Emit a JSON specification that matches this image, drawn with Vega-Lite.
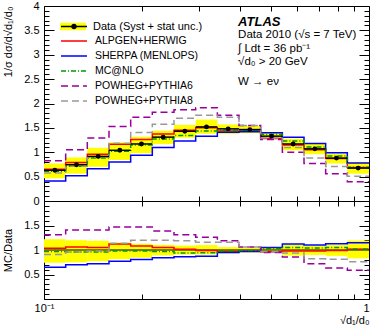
{
  "$schema": "https://vega.github.io/schema/vega-lite/v6.json",
  "padding": {"left": 2, "top": -1, "right": 1, "bottom": 0},
  "spacing": 0,
  "bounds": "flush",
  "config": {
    "font": "Liberation Sans",
    "view": {"stroke": "black", "strokeWidth": 1},
    "axis": {"domain": false, "grid": false, "tickColor": "black", "tickWidth": 1, "labelColor": "black", "titleColor": "black", "labelFont": "Liberation Sans", "titleFont": "Liberation Sans", "titleFontWeight": "normal", "labelFontSize": 11, "titleFontSize": 11}
  },
  "datasets": {
    "bins": [
      {"lo": 0.1, "hi": 0.1166, "c": 0.108, "d": 0.63, "dlo": 0.466, "dhi": 0.77, "rlo": 0.74, "rhi": 1.22},
      {"lo": 0.1166, "hi": 0.1359, "c": 0.1259, "d": 0.745, "dlo": 0.56, "dhi": 0.894, "rlo": 0.75, "rhi": 1.2},
      {"lo": 0.1359, "hi": 0.1585, "c": 0.1468, "d": 0.915, "dlo": 0.705, "dhi": 1.09, "rlo": 0.77, "rhi": 1.19},
      {"lo": 0.1585, "hi": 0.1848, "c": 0.1711, "d": 1.04, "dlo": 0.84, "dhi": 1.2, "rlo": 0.81, "rhi": 1.15},
      {"lo": 0.1848, "hi": 0.2154, "c": 0.1995, "d": 1.17, "dlo": 0.98, "dhi": 1.32, "rlo": 0.84, "rhi": 1.13},
      {"lo": 0.2154, "hi": 0.2512, "c": 0.2326, "d": 1.31, "dlo": 1.17, "dhi": 1.44, "rlo": 0.89, "rhi": 1.1},
      {"lo": 0.2512, "hi": 0.2929, "c": 0.2712, "d": 1.43, "dlo": 1.3, "dhi": 1.56, "rlo": 0.91, "rhi": 1.09},
      {"lo": 0.2929, "hi": 0.3415, "c": 0.3162, "d": 1.52, "dlo": 1.38, "dhi": 1.67, "rlo": 0.91, "rhi": 1.1},
      {"lo": 0.3415, "hi": 0.3981, "c": 0.3687, "d": 1.48, "dlo": 1.37, "dhi": 1.57, "rlo": 0.925, "rhi": 1.06},
      {"lo": 0.3981, "hi": 0.4642, "c": 0.4299, "d": 1.465, "dlo": 1.39, "dhi": 1.54, "rlo": 0.95, "rhi": 1.05},
      {"lo": 0.4642, "hi": 0.5412, "c": 0.5012, "d": 1.33, "dlo": 1.28, "dhi": 1.4, "rlo": 0.96, "rhi": 1.05},
      {"lo": 0.5412, "hi": 0.631, "c": 0.5843, "d": 1.17, "dlo": 1.04, "dhi": 1.27, "rlo": 0.89, "rhi": 1.1},
      {"lo": 0.631, "hi": 0.7356, "c": 0.6813, "d": 1.07, "dlo": 0.96, "dhi": 1.17, "rlo": 0.9, "rhi": 1.09},
      {"lo": 0.7356, "hi": 0.8577, "c": 0.7943, "d": 0.88, "dlo": 0.77, "dhi": 0.97, "rlo": 0.88, "rhi": 1.1},
      {"lo": 0.8577, "hi": 1.0, "c": 0.9261, "d": 0.675, "dlo": 0.56, "dhi": 0.8, "rlo": 0.83, "rhi": 1.19}
    ],
    "lines": [
      {"g": "Alpgen+Herwig", "x": 0.1, "t": 0.652, "r": 1.035},
      {"g": "Alpgen+Herwig", "x": 0.1166, "t": 0.79, "r": 1.06},
      {"g": "Alpgen+Herwig", "x": 0.1359, "t": 0.96, "r": 1.05},
      {"g": "Alpgen+Herwig", "x": 0.1585, "t": 1.165, "r": 1.12},
      {"g": "Alpgen+Herwig", "x": 0.1848, "t": 1.264, "r": 1.08},
      {"g": "Alpgen+Herwig", "x": 0.2154, "t": 1.376, "r": 1.05},
      {"g": "Alpgen+Herwig", "x": 0.2512, "t": 1.451, "r": 1.015},
      {"g": "Alpgen+Herwig", "x": 0.2929, "t": 1.505, "r": 0.99},
      {"g": "Alpgen+Herwig", "x": 0.3415, "t": 1.436, "r": 0.97},
      {"g": "Alpgen+Herwig", "x": 0.3981, "t": 1.436, "r": 0.98},
      {"g": "Alpgen+Herwig", "x": 0.4642, "t": 1.283, "r": 0.965},
      {"g": "Alpgen+Herwig", "x": 0.5412, "t": 1.147, "r": 0.98},
      {"g": "Alpgen+Herwig", "x": 0.631, "t": 1.049, "r": 0.98},
      {"g": "Alpgen+Herwig", "x": 0.7356, "t": 0.871, "r": 0.99},
      {"g": "Alpgen+Herwig", "x": 0.8577, "t": 0.685, "r": 1.015},
      {"g": "Alpgen+Herwig", "x": 1.0, "t": 0.685, "r": 1.015},
      {"g": "Sherpa (Menlops)", "x": 0.1, "t": 0.41, "r": 0.65},
      {"g": "Sherpa (Menlops)", "x": 0.1166, "t": 0.52, "r": 0.7},
      {"g": "Sherpa (Menlops)", "x": 0.1359, "t": 0.66, "r": 0.72},
      {"g": "Sherpa (Menlops)", "x": 0.1585, "t": 0.8, "r": 0.77},
      {"g": "Sherpa (Menlops)", "x": 0.1848, "t": 0.94, "r": 0.805},
      {"g": "Sherpa (Menlops)", "x": 0.2154, "t": 1.1, "r": 0.84},
      {"g": "Sherpa (Menlops)", "x": 0.2512, "t": 1.23, "r": 0.86},
      {"g": "Sherpa (Menlops)", "x": 0.2929, "t": 1.33, "r": 0.875},
      {"g": "Sherpa (Menlops)", "x": 0.3415, "t": 1.41, "r": 0.95},
      {"g": "Sherpa (Menlops)", "x": 0.3981, "t": 1.42, "r": 0.97},
      {"g": "Sherpa (Menlops)", "x": 0.4642, "t": 1.4, "r": 1.05},
      {"g": "Sherpa (Menlops)", "x": 0.5412, "t": 1.31, "r": 1.12},
      {"g": "Sherpa (Menlops)", "x": 0.631, "t": 1.18, "r": 1.1},
      {"g": "Sherpa (Menlops)", "x": 0.7356, "t": 0.99, "r": 1.13},
      {"g": "Sherpa (Menlops)", "x": 0.8577, "t": 0.78, "r": 1.15},
      {"g": "Sherpa (Menlops)", "x": 1.0, "t": 0.78, "r": 1.15},
      {"g": "Mc@Nlo", "x": 0.1, "t": 0.61, "r": 0.97},
      {"g": "Mc@Nlo", "x": 0.1166, "t": 0.715, "r": 0.96},
      {"g": "Mc@Nlo", "x": 0.1359, "t": 0.88, "r": 0.96},
      {"g": "Mc@Nlo", "x": 0.1585, "t": 1.02, "r": 0.98},
      {"g": "Mc@Nlo", "x": 0.1848, "t": 1.147, "r": 0.98},
      {"g": "Mc@Nlo", "x": 0.2154, "t": 1.27, "r": 0.97},
      {"g": "Mc@Nlo", "x": 0.2512, "t": 1.344, "r": 0.94},
      {"g": "Mc@Nlo", "x": 0.2929, "t": 1.436, "r": 0.945},
      {"g": "Mc@Nlo", "x": 0.3415, "t": 1.45, "r": 0.98},
      {"g": "Mc@Nlo", "x": 0.3981, "t": 1.45, "r": 0.99},
      {"g": "Mc@Nlo", "x": 0.4642, "t": 1.37, "r": 1.03},
      {"g": "Mc@Nlo", "x": 0.5412, "t": 1.23, "r": 1.05},
      {"g": "Mc@Nlo", "x": 0.631, "t": 1.11, "r": 1.04},
      {"g": "Mc@Nlo", "x": 0.7356, "t": 0.924, "r": 1.05},
      {"g": "Mc@Nlo", "x": 0.8577, "t": 0.69, "r": 1.02},
      {"g": "Mc@Nlo", "x": 1.0, "t": 0.69, "r": 1.02},
      {"g": "Powheg+Pythia6", "x": 0.1, "t": 0.825, "r": 1.31},
      {"g": "Powheg+Pythia6", "x": 0.1166, "t": 1.05, "r": 1.41},
      {"g": "Powheg+Pythia6", "x": 0.1359, "t": 1.29, "r": 1.41},
      {"g": "Powheg+Pythia6", "x": 0.1585, "t": 1.53, "r": 1.47},
      {"g": "Powheg+Pythia6", "x": 0.1848, "t": 1.72, "r": 1.47},
      {"g": "Powheg+Pythia6", "x": 0.2154, "t": 1.82, "r": 1.39},
      {"g": "Powheg+Pythia6", "x": 0.2512, "t": 1.87, "r": 1.31},
      {"g": "Powheg+Pythia6", "x": 0.2929, "t": 1.915, "r": 1.26},
      {"g": "Powheg+Pythia6", "x": 0.3415, "t": 1.76, "r": 1.19},
      {"g": "Powheg+Pythia6", "x": 0.3981, "t": 1.55, "r": 1.06},
      {"g": "Powheg+Pythia6", "x": 0.4642, "t": 1.26, "r": 0.95},
      {"g": "Powheg+Pythia6", "x": 0.5412, "t": 1.0, "r": 0.855},
      {"g": "Powheg+Pythia6", "x": 0.631, "t": 0.77, "r": 0.72},
      {"g": "Powheg+Pythia6", "x": 0.7356, "t": 0.56, "r": 0.635},
      {"g": "Powheg+Pythia6", "x": 0.8577, "t": 0.395, "r": 0.585},
      {"g": "Powheg+Pythia6", "x": 1.0, "t": 0.395, "r": 0.585},
      {"g": "Powheg+Pythia8", "x": 0.1, "t": 0.573, "r": 0.91},
      {"g": "Powheg+Pythia8", "x": 0.1166, "t": 0.715, "r": 0.96},
      {"g": "Powheg+Pythia8", "x": 0.1359, "t": 0.897, "r": 0.98},
      {"g": "Powheg+Pythia8", "x": 0.1585, "t": 1.186, "r": 1.14},
      {"g": "Powheg+Pythia8", "x": 0.1848, "t": 1.404, "r": 1.2},
      {"g": "Powheg+Pythia8", "x": 0.2154, "t": 1.572, "r": 1.2},
      {"g": "Powheg+Pythia8", "x": 0.2512, "t": 1.7, "r": 1.19},
      {"g": "Powheg+Pythia8", "x": 0.2929, "t": 1.76, "r": 1.16},
      {"g": "Powheg+Pythia8", "x": 0.3415, "t": 1.72, "r": 1.16},
      {"g": "Powheg+Pythia8", "x": 0.3981, "t": 1.55, "r": 1.06},
      {"g": "Powheg+Pythia8", "x": 0.4642, "t": 1.29, "r": 0.97},
      {"g": "Powheg+Pythia8", "x": 0.5412, "t": 1.1, "r": 0.94},
      {"g": "Powheg+Pythia8", "x": 0.631, "t": 0.88, "r": 0.82},
      {"g": "Powheg+Pythia8", "x": 0.7356, "t": 0.71, "r": 0.81},
      {"g": "Powheg+Pythia8", "x": 0.8577, "t": 0.51, "r": 0.76},
      {"g": "Powheg+Pythia8", "x": 1.0, "t": 0.51, "r": 0.76}
    ]
  },
  "vconcat": [
    {
      "width": 325,
      "height": 195,
      "resolve": {"axis": {"x": "independent", "y": "independent"}},
      "layer": [
        {
          "data": {"name": "bins"},
          "mark": {"type": "rect"},
          "encoding": {
            "x": {"field": "lo", "type": "quantitative", "scale": {"type": "log", "domain": [0.1, 1], "nice": false},
                  "axis": {"orient": "bottom", "values": [0.2, 0.3, 0.4, 0.5, 0.6, 0.7, 0.8, 0.9], "tickSize": -5, "labels": false, "title": null}},
            "x2": {"field": "hi"},
            "y": {"field": "dlo", "type": "quantitative", "scale": {"domain": [0, 4], "nice": false, "zero": false},
                  "axis": {"orient": "left", "values": [0, 0.5, 1, 1.5, 2, 2.5, 3, 3.5, 4], "format": "~g", "tickSize": -10, "labelPadding": 15, "title": "1/σ dσ/d√d₁/d₀", "titleAnchor": "end", "titlePadding": 10}},
            "y2": {"field": "dhi"},
            "fill": {"datum": "Data (Syst + stat unc.)", "scale": {"range": ["#ffff00"]},
                     "legend": {"orient": "none", "legendX": 16, "legendY": 13.3, "title": null, "padding": 0, "symbolType": "M-1,-0.28H1V0.28H-1Z", "symbolSize": 676, "symbolStrokeWidth": 0, "labelFontSize": 11, "labelFont": "Liberation Sans", "labelColor": "black", "labelOffset": 7, "clipHeight": 14.4}}
          }
        },
        {
          "data": {"name": "lines"},
          "mark": {"type": "line", "interpolate": "step-after", "strokeWidth": 1.5},
          "encoding": {
            "x": {"field": "x", "type": "quantitative", "axis": {"orient": "top", "values": [0.2, 0.3, 0.4, 0.5, 0.6, 0.7, 0.8, 0.9], "tickSize": -5, "labels": false, "title": null}},
            "y": {"field": "t", "type": "quantitative", "axis": {"orient": "left", "values": [0.1,0.2,0.3,0.4,0.6,0.7,0.8,0.9,1.1,1.2,1.3,1.4,1.6,1.7,1.8,1.9,2.1,2.2,2.3,2.4,2.6,2.7,2.8,2.9,3.1,3.2,3.3,3.4,3.6,3.7,3.8,3.9], "tickSize": -5, "labels": false, "title": null}},
            "color": {"field": "g", "type": "nominal",
                      "scale": {"domain": ["Alpgen+Herwig", "Sherpa (Menlops)", "Mc@Nlo", "Powheg+Pythia6", "Powheg+Pythia8"], "range": ["#ff0000", "#0000ff", "#009900", "#990099", "#999999"]},
                      "legend": {"orient": "none", "legendX": 16, "legendY": 27.8, "title": null, "padding": 0, "symbolType": "stroke", "symbolSize": 676, "symbolStrokeWidth": 1.5, "labelFontSize": 10.5, "labelFont": "Liberation Sans", "labelColor": "black", "labelOffset": 7, "clipHeight": 14.4, "rowPadding": 0, "labelExpr": "upper(datum.label)"}},
            "strokeDash": {"field": "g", "type": "nominal",
                      "scale": {"domain": ["Alpgen+Herwig", "Sherpa (Menlops)", "Mc@Nlo", "Powheg+Pythia6", "Powheg+Pythia8"], "range": [[1, 0], [1, 0], [5, 2, 1, 2], [7, 4], [7, 4]]},
                      "legend": {"orient": "none", "legendX": 16, "legendY": 27.8, "title": null, "padding": 0, "symbolType": "stroke", "symbolSize": 676, "symbolStrokeWidth": 1.5, "labelFontSize": 10.5, "labelFont": "Liberation Sans", "labelColor": "black", "labelOffset": 7, "clipHeight": 14.4, "rowPadding": 0, "labelExpr": "upper(datum.label)"}}
          }
        },
        {
          "data": {"name": "bins"},
          "mark": {"type": "rule", "strokeWidth": 1.5},
          "encoding": {
            "x": {"field": "lo", "type": "quantitative", "axis": null},
            "x2": {"field": "hi"},
            "y": {"field": "d", "type": "quantitative", "axis": {"orient": "right", "values": [0, 0.5, 1, 1.5, 2, 2.5, 3, 3.5, 4], "tickSize": -10, "labels": false, "title": null}},
            "stroke": {"datum": "Data", "scale": {"range": ["black"]},
                       "legend": {"orient": "none", "legendX": 16, "legendY": 13.3, "title": null, "padding": 0, "symbolType": "M-1,0H1M0.16,0A0.16,0.16,0,1,1,-0.16,0A0.16,0.16,0,1,1,0.16,0Z", "symbolSize": 676, "symbolStrokeWidth": 1.5, "symbolStrokeColor": "black", "symbolFillColor": "black", "labelFontSize": 11, "labelColor": "black", "labelOffset": 7, "clipHeight": 14.4, "labelExpr": "''"}}
          }
        },
        {
          "data": {"name": "bins"},
          "mark": {"type": "point", "filled": true, "color": "black", "size": 24, "opacity": 1},
          "encoding": {
            "x": {"field": "c", "type": "quantitative", "axis": null},
            "y": {"field": "d", "type": "quantitative", "axis": {"orient": "right", "values": [0.1,0.2,0.3,0.4,0.6,0.7,0.8,0.9,1.1,1.2,1.3,1.4,1.6,1.7,1.8,1.9,2.1,2.2,2.3,2.4,2.6,2.7,2.8,2.9,3.1,3.2,3.3,3.4,3.6,3.7,3.8,3.9], "tickSize": -5, "labels": false, "title": null}}
          }
        },
        {
          "data": {"values": [{}]},
          "mark": {"type": "text", "text": "ATLAS", "align": "left", "baseline": "middle", "fontSize": 13, "fontWeight": "bold", "fontStyle": "italic", "font": "Liberation Sans", "color": "black"},
          "encoding": {"x": {"datum": 0.3955, "type": "quantitative", "axis": null}, "y": {"datum": 3.67, "type": "quantitative", "axis": null}}
        },
        {
          "data": {"values": [{}]},
          "mark": {"type": "text", "text": ["Data 2010 (√s = 7 TeV)", "∫ Ldt = 36 pb⁻¹", "√d₀ > 20 GeV"], "align": "left", "baseline": "middle", "fontSize": 11.5, "lineHeight": 13.5, "font": "Liberation Sans", "color": "black"},
          "encoding": {"x": {"datum": 0.3955, "type": "quantitative", "axis": null}, "y": {"datum": 3.4, "type": "quantitative", "axis": null}}
        },
        {
          "data": {"values": [{}]},
          "mark": {"type": "text", "text": "W → eν", "align": "left", "baseline": "middle", "fontSize": 11.5, "font": "Liberation Sans", "color": "black"},
          "encoding": {"x": {"datum": 0.3955, "type": "quantitative", "axis": null}, "y": {"datum": 2.44, "type": "quantitative", "axis": null}}
        }
      ]
    },
    {
      "width": 325,
      "height": 98,
      "resolve": {"axis": {"x": "independent", "y": "independent"}},
      "layer": [
        {
          "data": {"name": "bins"},
          "mark": {"type": "rect", "color": "#ffff00"},
          "encoding": {
            "x": {"field": "lo", "type": "quantitative", "scale": {"type": "log", "domain": [0.1, 1], "nice": false},
                  "axis": {"orient": "bottom", "values": [0.1, 0.2, 0.3, 0.4, 0.5, 0.6, 0.7, 0.8, 0.9, 1], "tickSize": -5, "labelPadding": 8, "labelFlush": false, "labelOverlap": false, "labelAlign": {"condition": {"test": "datum.value > 0.95", "value": "right"}, "value": "center"}, "labelExpr": "datum.value < 0.15 ? '10⁻¹' : (datum.value > 0.95 ? '1' : '')", "title": "√d₁/d₀", "titleX": 325, "titleY": 21, "titleAlign": "right", "titleBaseline": "middle", "titleAnchor": null}},
            "x2": {"field": "hi"},
            "y": {"field": "rlo", "type": "quantitative", "scale": {"domain": [0, 2], "nice": false, "zero": false},
                  "axis": {"orient": "left", "values": [0, 0.5, 1, 1.5, 2], "format": "~g", "labelExpr": "datum.value > 0.1 && datum.value < 1.9 ? datum.label : ''", "tickSize": -10, "labelPadding": 15, "title": "MC/Data", "titlePadding": 10}},
            "y2": {"field": "rhi"}
          }
        },
        {
          "data": {"values": [{}]},
          "mark": {"type": "rule", "color": "black", "strokeWidth": 1},
          "encoding": {
            "y": {"datum": 1, "type": "quantitative", "axis": {"orient": "left", "values": [0.1,0.2,0.3,0.4,0.6,0.7,0.8,0.9,1.1,1.2,1.3,1.4,1.6,1.7,1.8,1.9], "tickSize": -5, "labels": false, "title": null}}
          }
        },
        {
          "data": {"name": "lines"},
          "transform": [{"filter": {"field": "g", "oneOf": ["Alpgen+Herwig", "Sherpa (Menlops)"]}}],
          "mark": {"type": "line", "interpolate": "step-after", "strokeWidth": 1.5},
          "encoding": {
            "x": {"field": "x", "type": "quantitative", "axis": {"orient": "top", "values": [0.2, 0.3, 0.4, 0.5, 0.6, 0.7, 0.8, 0.9], "tickSize": -5, "labels": false, "title": null}},
            "y": {"field": "r", "type": "quantitative", "axis": {"orient": "right", "values": [0, 0.5, 1, 1.5, 2], "tickSize": -10, "labels": false, "title": null}},
            "color": {"field": "g", "type": "nominal", "legend": null,
                      "scale": {"domain": ["Alpgen+Herwig", "Sherpa (Menlops)", "Mc@Nlo", "Powheg+Pythia6", "Powheg+Pythia8"], "range": ["#ff0000", "#0000ff", "#009900", "#990099", "#999999"]}},
            "strokeDash": {"field": "g", "type": "nominal", "legend": null,
                      "scale": {"domain": ["Alpgen+Herwig", "Sherpa (Menlops)", "Mc@Nlo", "Powheg+Pythia6", "Powheg+Pythia8"], "range": [[1, 0], [1, 0], [5, 2, 1, 2], [7, 4], [7, 4]]}}
          }
        },
        {
          "data": {"name": "lines"},
          "transform": [{"filter": {"field": "g", "oneOf": ["Mc@Nlo", "Powheg+Pythia6", "Powheg+Pythia8"]}}],
          "mark": {"type": "line", "interpolate": "step-after", "strokeWidth": 1.5},
          "encoding": {
            "x": {"field": "x", "type": "quantitative", "axis": null},
            "y": {"field": "r", "type": "quantitative", "axis": {"orient": "right", "values": [0.1,0.2,0.3,0.4,0.6,0.7,0.8,0.9,1.1,1.2,1.3,1.4,1.6,1.7,1.8,1.9], "tickSize": -5, "labels": false, "title": null}},
            "color": {"field": "g", "type": "nominal", "legend": null},
            "strokeDash": {"field": "g", "type": "nominal", "legend": null}
          }
        }
      ]
    }
  ]
}
